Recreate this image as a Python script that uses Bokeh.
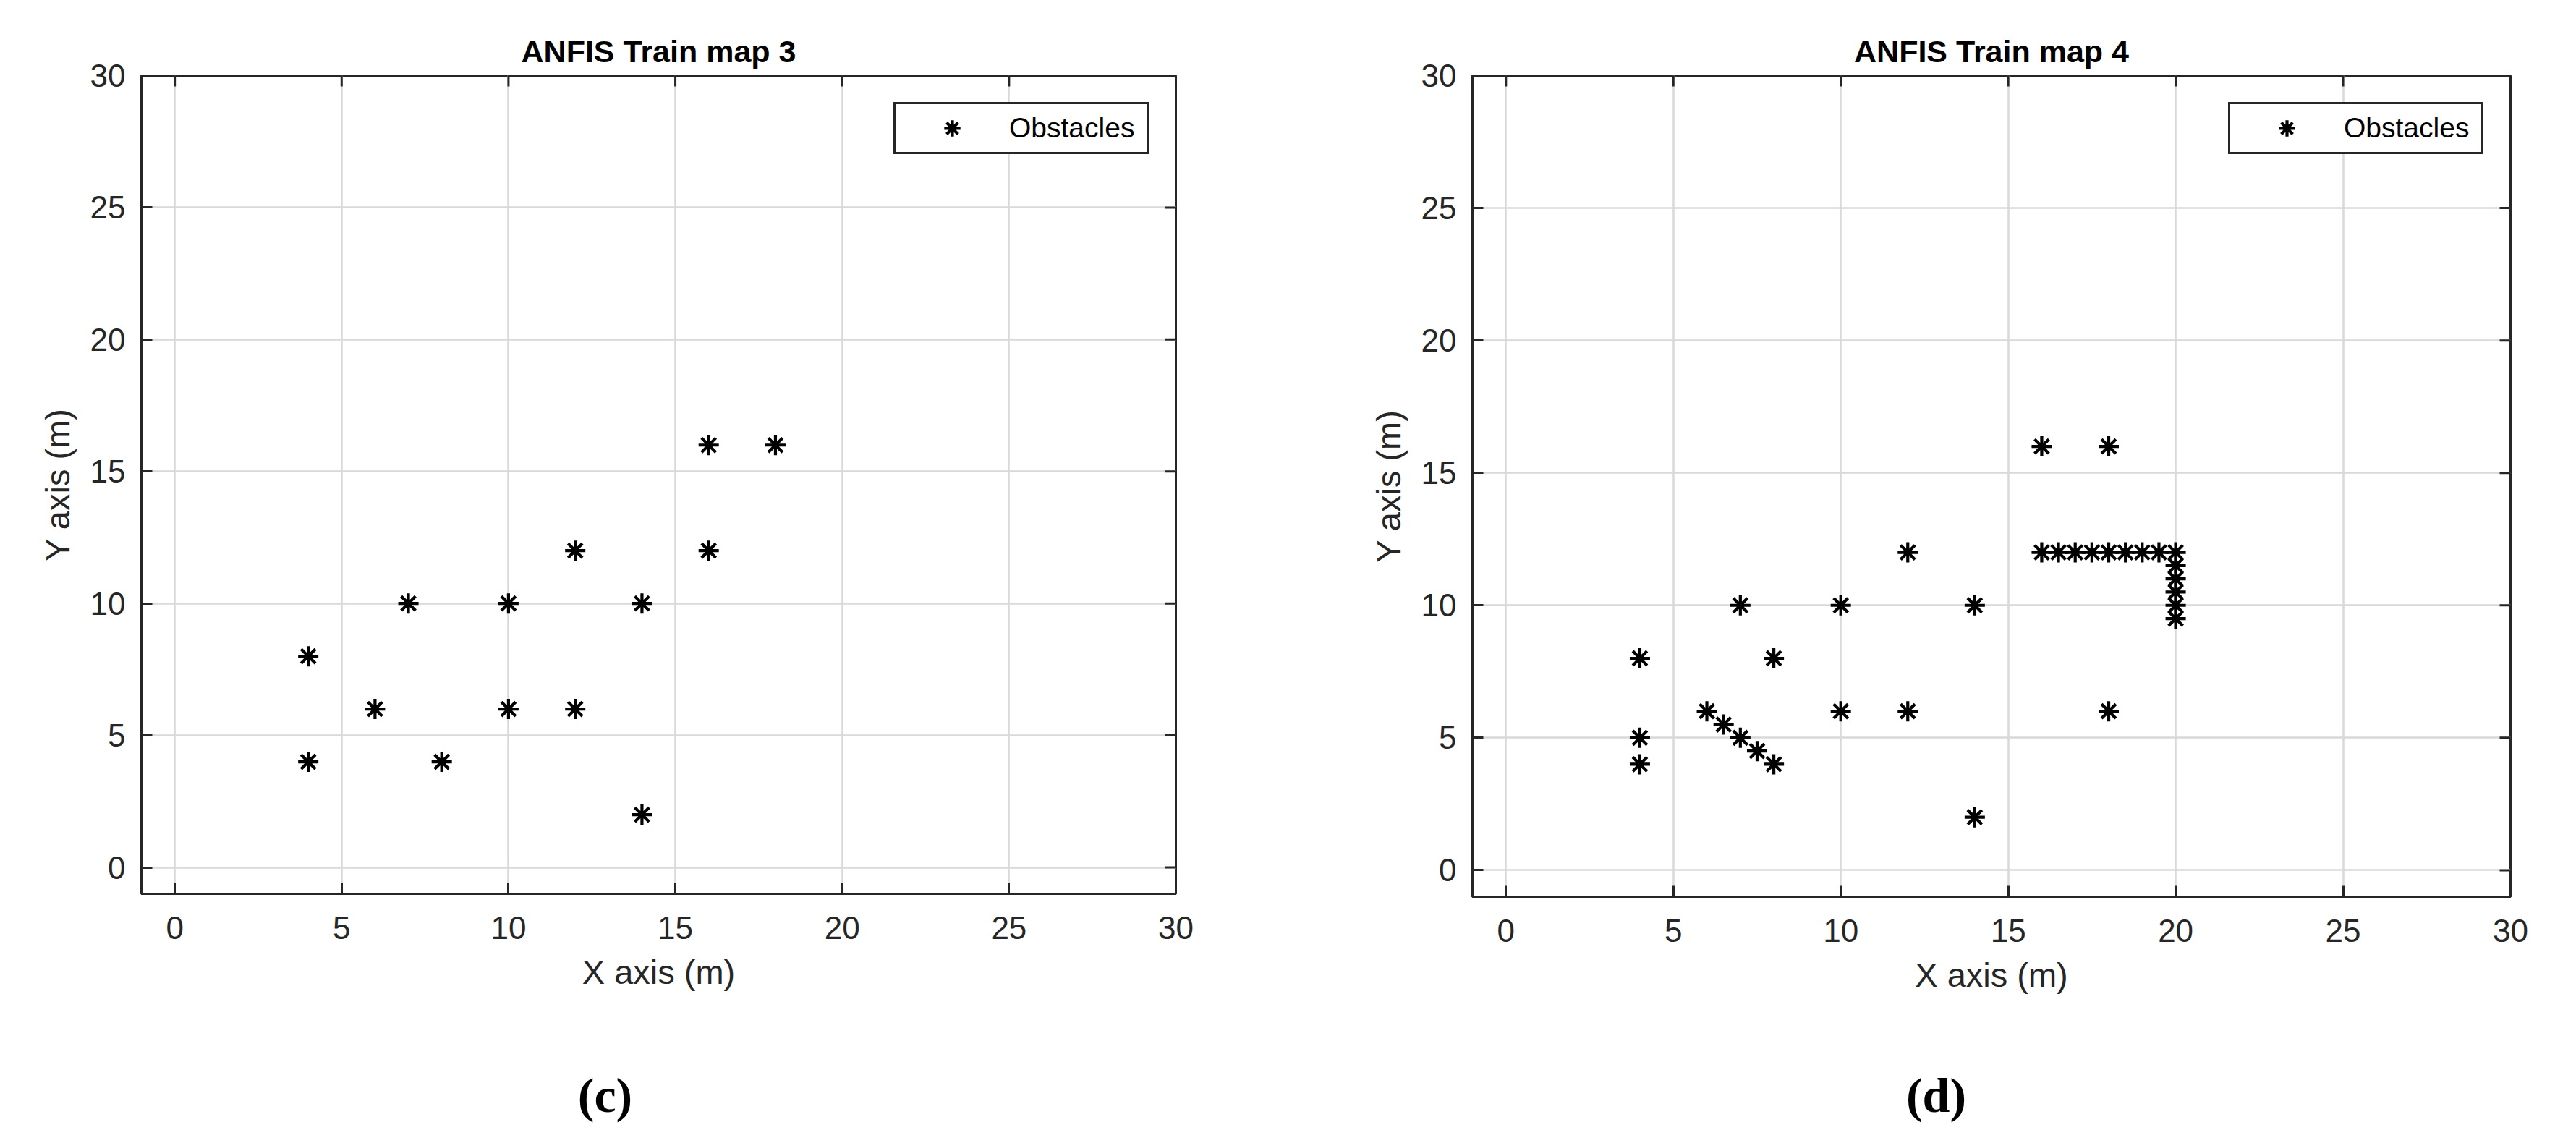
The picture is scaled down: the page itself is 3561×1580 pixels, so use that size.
import math
from bokeh.plotting import figure
from bokeh.models import Range1d, FixedTicker
from bokeh.layouts import row, column
from bokeh.embed import file_html
from bokeh.resources import INLINE

# ---- data ----
ticks = [0, 5, 10, 15, 20, 25, 30]
titles = ["ANFIS Train map 3", "ANFIS Train map 4"]
captions = ["(c)", "(d)"]
x_label = "X axis (m)"
y_label = "Y axis (m)"
series_label = "Obstacles"

map3_x = [4, 4, 6, 7, 8, 10, 10, 12, 12, 14, 14, 16, 16, 18]
map3_y = [8, 4, 6, 10, 4, 10, 6, 12, 6, 10, 2, 16, 12, 16]

map4_x = [4, 4, 4, 6, 6.5, 7, 7.5, 8, 7, 8, 10, 10, 12, 12, 14, 14, 16, 18, 18,
          16, 16.5, 17, 17.5, 18, 18.5, 19, 19.5, 20,
          20, 20, 20, 20, 20]
map4_y = [8, 5, 4, 6, 5.5, 5, 4.5, 4, 10, 8, 10, 6, 12, 6, 10, 2, 16, 16, 6,
          12, 12, 12, 12, 12, 12, 12, 12, 12,
          11.5, 11, 10.5, 10, 9.5]

AX_MIN, AX_MAX = -1, 30

DARK = "#262626"
FONT = "Liberation Sans"


def style_axis(ax):
    ax.ticker = FixedTicker(ticks=ticks)
    ax.major_tick_in = 15
    ax.major_tick_out = 0
    ax.minor_tick_line_color = None
    ax.major_tick_line_color = DARK
    ax.major_tick_line_width = 3
    ax.axis_line_color = DARK
    ax.axis_line_width = 3
    ax.major_label_text_font = FONT
    ax.major_label_text_font_size = "44px"
    ax.major_label_text_color = DARK
    ax.axis_label_text_font = FONT
    ax.axis_label_text_font_size = "47px"
    ax.axis_label_text_font_style = "normal"
    ax.axis_label_text_color = DARK


def make_panel(xs, ys, title, fw, fh, left_b, right_b):
    p = figure(frame_width=fw, frame_height=fh,
               x_range=Range1d(AX_MIN, AX_MAX), y_range=Range1d(AX_MIN, AX_MAX),
               output_backend="svg", toolbar_location=None,
               min_border_left=left_b, min_border_right=right_b,
               min_border_top=104, min_border_bottom=145,
               background_fill_color="white", border_fill_color="white",
               outline_line_color=DARK, outline_line_width=3, outline_line_alpha=1.0)
    p.title.text = title
    p.title.align = "center"
    p.title.text_font = FONT
    p.title.text_font_size = "43px"
    p.title.text_font_style = "bold"
    p.title.text_color = "black"
    p.title.standoff = 20

    style_axis(p.xaxis[0])
    style_axis(p.yaxis[0])
    p.xaxis[0].axis_label = x_label
    p.yaxis[0].axis_label = y_label
    p.xaxis[0].major_label_standoff = 31
    p.xaxis[0].axis_label_standoff = 16
    p.yaxis[0].major_label_standoff = 22
    p.yaxis[0].axis_label_standoff = 16

    for g in (p.xgrid[0], p.ygrid[0]):
        g.ticker = FixedTicker(ticks=ticks)
        g.grid_line_color = "#d9d9d9"
        g.grid_line_width = 2.5

    # inward tick marks on the top and right edges of the box (half clipped by the frame)
    p.scatter(ticks, [AX_MAX] * len(ticks), marker="dash", size=30, angle=math.pi / 2,
              line_color=DARK, line_width=3)
    p.scatter([AX_MAX] * len(ticks), ticks, marker="dash", size=30,
              line_color=DARK, line_width=3)

    p.scatter(xs, ys, marker="asterisk", size=28, line_color="black",
              line_width=4.2, legend_label=series_label)

    lg = p.legend[0]
    lg.location = "top_right"
    lg.margin = 37
    lg.padding = 5
    lg.spacing = 0
    lg.glyph_width = 146
    lg.glyph_height = 56
    lg.label_standoff = 6
    lg.label_width = 185
    lg.label_text_font = FONT
    lg.label_text_font_size = "39px"
    lg.label_text_color = "black"
    lg.border_line_color = DARK
    lg.border_line_width = 3
    lg.border_line_alpha = 1.0
    lg.background_fill_color = "white"
    lg.background_fill_alpha = 1.0
    return p


def make_caption(text, total_w, center_x):
    fw = 200
    left_b = center_x - fw // 2
    c = figure(frame_width=fw, frame_height=10, toolbar_location=None,
               output_backend="svg", x_axis_location=None, y_axis_location=None,
               min_border_left=left_b, min_border_right=total_w - left_b - fw,
               min_border_top=172, min_border_bottom=0,
               background_fill_color="white", border_fill_color="white",
               outline_line_color=None)
    c.grid.visible = False
    c.title.text = text
    c.title.align = "center"
    c.title.text_font = "Liberation Serif"
    c.title.text_font_size = "68px"
    c.title.text_font_style = "bold"
    c.title.text_color = "black"
    c.title.standoff = 10
    return c


W1 = 1780
W2 = 1765
p3 = make_panel(map3_x, map3_y, titles[0], 1430, 1131, 195, W1 - 195 - 1430)
p4 = make_panel(map4_x, map4_y, titles[1], 1435, 1135, 2035 - W1, W2 - (2035 - W1) - 1435)
c3 = make_caption(captions[0], W1, 836)
c4 = make_caption(captions[1], W2, 2676 - W1)

layout = column(row(p3, p4), row(c3, c4))
open("out.html", "w").write(file_html(layout, INLINE))
